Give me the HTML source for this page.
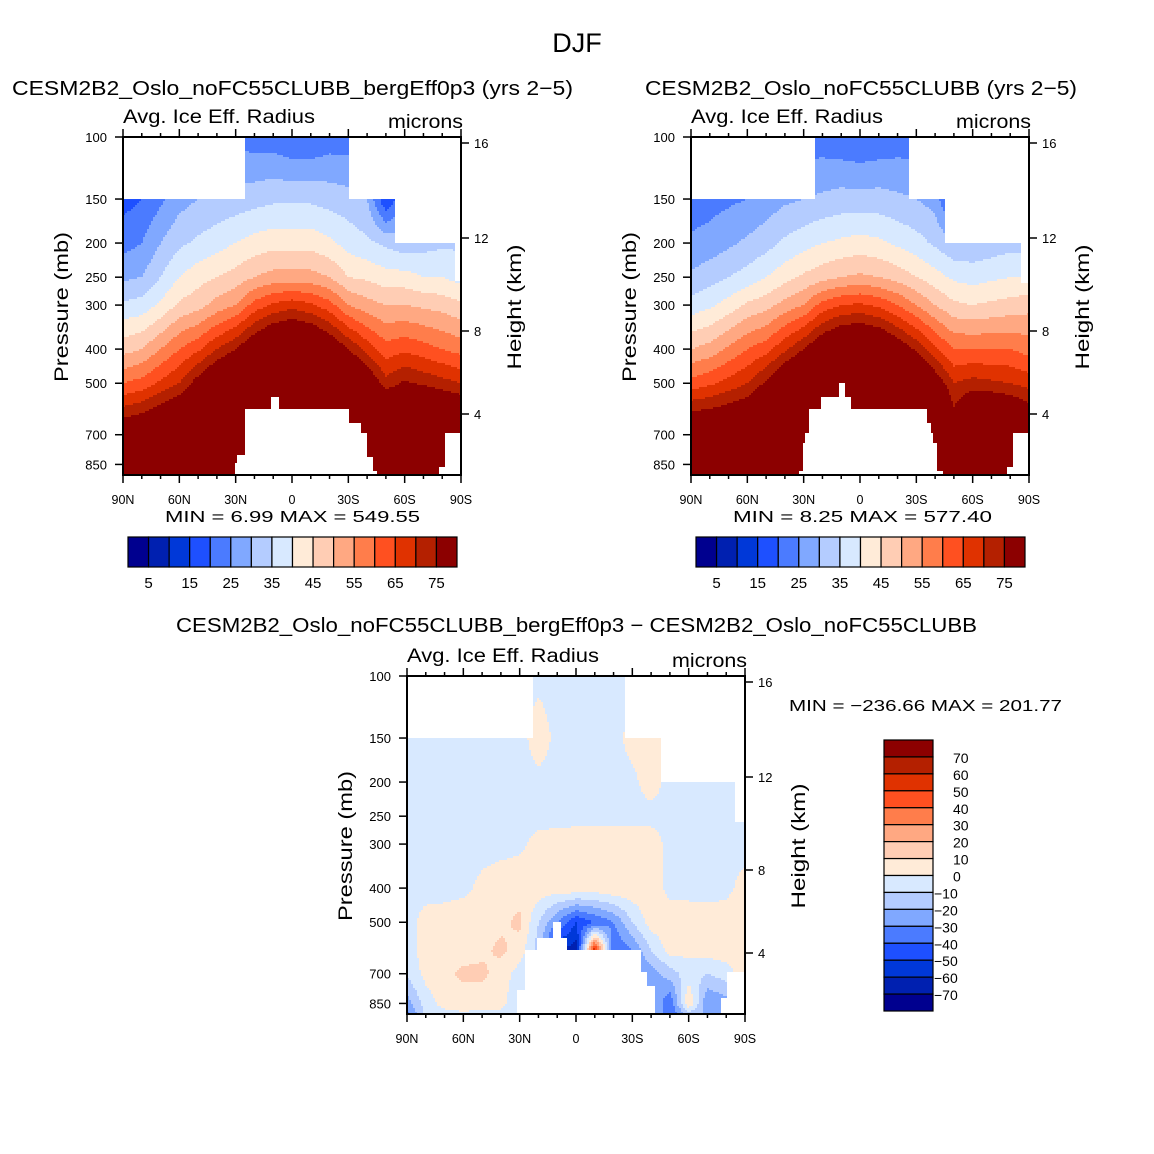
<!DOCTYPE html>
<html><head><meta charset="utf-8"><style>
body{margin:0;background:#fff}
svg{display:block}
text{font-family:"Liberation Sans",sans-serif;fill:#000}
</style></head><body>
<svg id="root" width="1154" height="1154" viewBox="0 0 1154 1154" xmlns="http://www.w3.org/2000/svg">
<rect x="0" y="0" width="1154" height="1154" fill="#fff"/>
<text x="577" y="52" font-size="27" text-anchor="middle">DJF</text>
<g id="p1"></g>
<g id="p2"></g>
<g id="p3"></g>
</svg>
<script>
const LATS=[90,80,70,60,50,40,30,20,10,0,-10,-20,-30,-40,-50,-60,-70,-80,-90];
const LEVS=[100,150,200,250,300,400,500,600,700,850,925];
const xTickLabels=["90N","60N","30N","0","30S","60S","90S"];
const xTickLats=[90,60,30,0,-30,-60,-90];
const pTickLabels=["100","150","200","250","300","400","500","700","850"];
const pTickVals=[100,150,200,250,300,400,500,700,850];
const hTickLabels=["16","12","8","4"];
const hTickY=[6,101,194,277];
const levelsAbs=[5,10,15,20,25,30,35,40,45,50,55,60,65,70,75];
const levelsDiff=[-70,-60,-50,-40,-30,-20,-10,0,10,20,30,40,50,60,70];
const cbAbsLabels=["5","15","25","35","45","55","65","75"];
const cbDiffLabels=["70","60","50","40","30","20","10","0","-10","-20","-30","-40","-50","-60","-70"];
const COLORS=['#00008f','#0020b0','#0038d8','#1e50ff','#4b7bff','#80a8ff','#b4ccff','#d8e9ff','#ffebd8','#ffcdb4','#ffa882','#ff7d4b','#ff5020','#e03200','#b42000','#8c0000'];
const data1=[
[18,18,23,29,36,48,60,72,82,90,90],
[20,20,25,30,37,50,62,74,85,92,92],
[22,24,30,35,41,55,66,78,90,95,95],
[24,28,34,40,46,60,70,82,95,95,95],
[25,30,36,43,48,64,78,90,95,95,95],
[25,31,38,45,52,70,85,95,95,95,95],
[24,32,40,47,55,75,90,95,95,95,95],
[22,33,42,50,62,82,95,95,95,95,95],
[22,34,43,52,66,88,95,95,95,95,95],
[20,34,43,52,68,90,95,95,95,95,95],
[20,34,43,52,66,88,95,95,95,95,95],
[22,33,41,50,62,82,95,95,95,95,95],
[22,32,38,45,55,75,90,95,95,95,95],
[22,30,36,44,52,68,82,95,95,95,95],
[22,15,34,42,50,62,72,85,95,95,95],
[22,25,32,42,50,64,76,88,95,95,95],
[22,26,33,40,49,62,74,88,95,95,95],
[22,27,34,40,48,60,72,85,95,95,95],
[22,28,34,38,46,58,70,82,92,95,95]];
const data2=[
[20,22,26,31,37,50,62,75,85,90,90],
[20,23,27,33,39,52,64,76,86,92,92],
[22,24,29,35,42,56,67,78,90,95,95],
[22,25,31,37,46,60,70,80,95,95,95],
[22,27,33,40,48,63,76,88,95,95,95],
[22,29,36,43,52,69,84,95,95,95,95],
[22,30,38,46,55,75,90,95,95,95,95],
[22,31,40,48,62,82,95,95,95,95,95],
[21,32,41,50,65,87,95,95,95,95,95],
[20,32,42,51,66,88,95,95,95,95,95],
[21,32,41,50,64,86,95,95,95,95,95],
[22,31,39,48,60,80,95,95,95,95,95],
[22,30,37,45,55,74,88,95,95,95,95],
[22,28,34,42,50,66,80,92,95,95,95],
[22,15,31,39,46,60,70,76,90,95,95],
[22,25,31,38,45,60,72,84,95,95,95],
[22,27,32,39,46,60,71,84,95,95,95],
[22,28,33,40,47,60,70,82,92,95,95],
[22,28,33,40,48,58,68,78,90,95,95]];
const data3=[
[-3,-3,-3,-3,-3,-3,-3,-5,-8,-25,-35],
[-3,-3,-3,-3,-3,-3,3,5,3,-5,-8],
[-3,-3,-3,-3,-3,-3,4,6,8,4,-5],
[-3,-3,-3,-3,-3,-2,5,6,12,5,-3],
[-3,-3,-3,-3,-3,2,6,8,12,5,-5],
[-3,-3,-3,-3,-3,5,8,12,6,3,-3],
[-3,-3,-3,-3,-2,6,12,6,-5,-8,-8],
[-2,4,-2,-3,3,6,-10,-15,-15,-15,-15],
[-3,-2,-3,-3,4,6,-30,-60,-60,-60,-60],
[-3,-3,-3,-3,5,8,-50,-65,-65,-65,-65],
[-3,-2,-3,-3,5,6,-40,60,60,60,60],
[-3,-3,-3,-3,5,8,-30,-40,-40,-40,-40],
[-3,3,-2,-3,6,7,-10,-30,-30,-30,-30],
[-3,3,4,-3,5,6,5,-10,-25,-15,-15],
[-3,-3,-3,-3,-3,-3,6,4,-15,-40,-40],
[-3,-3,-3,-3,-3,-3,5,3,-5,10,-20],
[-3,-3,-3,-3,-3,-3,4,5,-10,-30,-20],
[-3,-3,-3,-3,-3,-2,4,6,-5,-25,-25],
[-3,-3,-3,-3,-3,3,5,8,5,5,5]];
const mask1=[[90,25,100,150],[-30,-90,100,150],[-55,-90,150,200],[-87,-90,200,255],
[30.7,28.9,841,2000],[28.9,25,794,2000],[25,11.7,595,2000],[11.7,6.4,547,2000],[6.4,-30,595,2000],
[-30,-37.1,648,2000],[-37.1,-39.7,692,2000],[-39.7,-43.3,813,2000],[-43.3,-45.1,882,2000],
[-77.9,-81.5,864,2000],[-81.5,-90,692,2000]];
const mask2=[[90,24,100,150],[-26,-90,100,150],[-45,-90,150,200],[-86,-90,200,260],
[32.1,30.4,893,2000],[30.4,29.1,739,2000],[29.1,26.8,692,2000],[26.8,20.9,595,2000],[20.9,11.7,547,2000],
[11.7,8.2,500,2000],[8.2,4.6,547,2000],[4.6,-35.3,595,2000],[-35.3,-37.4,648,2000],[-37.4,-39.4,692,2000],
[-39.4,-41.2,739,2000],[-41.2,-44.7,893,2000],[-77.9,-81.5,864,2000],[-81.5,-90,692,2000]];
const mask3=[[90,23,100,150],[-26,-90,100,150],[-45,-90,150,200],[-85,-90,200,260],
[31,27.2,780,2000],[27.2,21.3,600,2000],[21.3,12.3,551,2000],[12.3,8.5,500,2000],[8.5,4.3,551,2000],
[4.3,-34.6,597,2000],[-34.6,-38.3,696,2000],[-38.3,-42,760,2000],[-77.7,-80.4,821,2000],[-80.4,-90,692,2000]];

const NS="http://www.w3.org/2000/svg";
const W=338,H=338,PY=153;
const LNL=LEVS.map(Math.log);
function el(tag,attrs,parent){const e=document.createElementNS(NS,tag);for(const k in attrs)e.setAttribute(k,attrs[k]);parent.appendChild(e);return e;}
function txt(parent,x,y,s,size,anchor,name,len){const t=el('text',{x:x,y:y,'font-size':size,'text-anchor':anchor||'start'},parent);


if(len){t.setAttribute('textLength',len);t.setAttribute('lengthAdjust','spacingAndGlyphs');}
t.textContent=s;return t;}
function valueAt(data,lat,lnp){
 let fi=(90-lat)/10; if(fi<0)fi=0; if(fi>18)fi=18;
 let i=Math.min(Math.floor(fi),17), t=fi-i;
 let j=0; if(lnp>LNL[0]){while(j<LEVS.length-2&&lnp>LNL[j+1])j++;}
 let u=(lnp-LNL[j])/(LNL[j+1]-LNL[j]); u=Math.max(0,Math.min(1,u));
 const a=data[i][j],b=data[i+1][j],c=data[i][j+1],d=data[i+1][j+1];
 return (a*(1-t)+b*t)*(1-u)+(c*(1-t)+d*t)*u;
}
function colorIdx(v,levels){let k=0;for(const l of levels)if(v>=l)k++;return k;}
function masked(mask,lat,p){for(const m of mask){if(lat<=m[0]&&lat>=m[1]&&p>=m[2]&&p<=m[3])return true;}return false;}
function drawField(g,x0,y0,data,mask,levels){
 const fg=el('g',{},g);
 
 
 const S=2;
 for(let py=0;py<H;py+=S){
  const lnp=Math.log(100)+(py+S/2)/PY, p=Math.exp(lnp);
  let runStart=0,runKey=null;
  const flush=(end)=>{ if(runKey!==null&&runKey>=0){const r=el('rect',{x:x0+runStart,y:y0+py,width:end-runStart,height:S,fill:COLORS[runKey]},fg);
   
   }};
  for(let px=0;px<W;px+=S){
   const lat=90-(px+S/2)/W*180;
   let key= masked(mask,lat,p)?-1:colorIdx(valueAt(data,lat,lnp),levels);
   if(key!==runKey){flush(px);runStart=px;runKey=key;}
  }
  flush(W);
 }
}
function drawAxes(g,x0,y0){
 const ax=el('g',{stroke:'#000',fill:'none'},g);
 
 
 const fr=el('rect',{x:x0,y:y0,width:W,height:H,'stroke-width':2},ax);
 
 
 for(let lat=90;lat>=-90;lat-=10){
  const x=x0+(90-lat)/180*W, major=(lat%30===0), L=major?8:4;
  el('line',{x1:x,y1:y0,x2:x,y2:y0-L,'stroke-width':1.5},ax);
  el('line',{x1:x,y1:y0+H,x2:x,y2:y0+H+L,'stroke-width':1.5},ax);
 }
 xTickLats.forEach((lat,k)=>{const x=x0+(90-lat)/180*W;txt(g,x,y0+H+29,xTickLabels[k],12.5,'middle','x-tick-label');});
 pTickVals.forEach((p,k)=>{const y=y0+Math.log(p/100)*PY;
  el('line',{x1:x0,y1:y,x2:x0-8,y2:y,'stroke-width':1.5},ax);
  txt(g,x0-16,y+5,pTickLabels[k],13,'end','y-tick-label');});
 hTickY.forEach((dy,k)=>{const y=y0+dy;
  el('line',{x1:x0+W,y1:y,x2:x0+W+8,y2:y,'stroke-width':1.5},ax);
  txt(g,x0+W+13,y+5,hTickLabels[k],13,'start','height-tick-label');});
 const t1=txt(g,0,0,'Pressure (mb)',19,'middle','y-axis-title',150);
 t1.setAttribute('transform',`translate(${x0-55},${y0+170}) rotate(-90)`);
 const t2=txt(g,0,0,'Height (km)',19,'middle','height-axis-title',125);
 t2.setAttribute('transform',`translate(${x0+W+60},${y0+170}) rotate(-90)`);
 txt(g,x0,y0-14,'Avg. Ice Eff. Radius',19,'start','field-name',192);
 txt(g,x0+W+2,y0-9,'microns',19,'end','units-label',75);
}
function hColorbar(g,x0,y0){
 const cb=el('g',{},g);
 
 
 const bw=329/16;
 COLORS.forEach((c,k)=>{const r=el('rect',{x:x0+k*bw,y:y0,width:bw,height:30,fill:c,stroke:'#000','stroke-width':1.2},cb);
  
  });
 cbAbsLabels.forEach((s,k)=>{txt(cb,x0+(2*k+1)*bw,y0+51,s,15,'middle','colorbar-label');});
}
function vColorbar(g,x0,y0){
 const cb=el('g',{},g);
 
 
 const bh=271/16;
 for(let k=0;k<16;k++){const r=el('rect',{x:x0,y:y0+k*bh,width:49,height:bh,fill:COLORS[15-k],stroke:'#000','stroke-width':1.2},cb);
  
  }
 cbDiffLabels.forEach((s,k)=>{txt(cb,x0+(s[0]==='-'?50:69),y0+(k+1)*bh+6,s.replace('-','\u2212'),14,'start','colorbar-label');});
}
const g1=document.getElementById('p1'),g2=document.getElementById('p2'),g3=document.getElementById('p3');
txt(g1,12,95,'CESM2B2_Oslo_noFC55CLUBB_bergEff0p3 (yrs 2\u22125)',20,'start','panel-title',561);
drawField(g1,123,137,data1,mask1,levelsAbs);drawAxes(g1,123,137);
txt(g1,165,522,'MIN =     6.99   MAX = 549.55',16,'start','min-max-label',255);
hColorbar(g1,128,537);
txt(g2,645,95,'CESM2B2_Oslo_noFC55CLUBB (yrs 2\u22125)',20,'start','panel-title',432);
drawField(g2,691,137,data2,mask2,levelsAbs);drawAxes(g2,691,137);
txt(g2,733,522,'MIN =     8.25   MAX = 577.40',16,'start','min-max-label',259);
hColorbar(g2,696,537);
txt(g3,176,632,'CESM2B2_Oslo_noFC55CLUBB_bergEff0p3 \u2212 CESM2B2_Oslo_noFC55CLUBB',20,'start','panel-title',801);
drawField(g3,407,676,data3,mask3,levelsDiff);drawAxes(g3,407,676);
txt(g3,789,711,'MIN = \u2212236.66   MAX = 201.77',16,'start','min-max-label',273);
vColorbar(g3,884,740);
</script>
</body></html>
